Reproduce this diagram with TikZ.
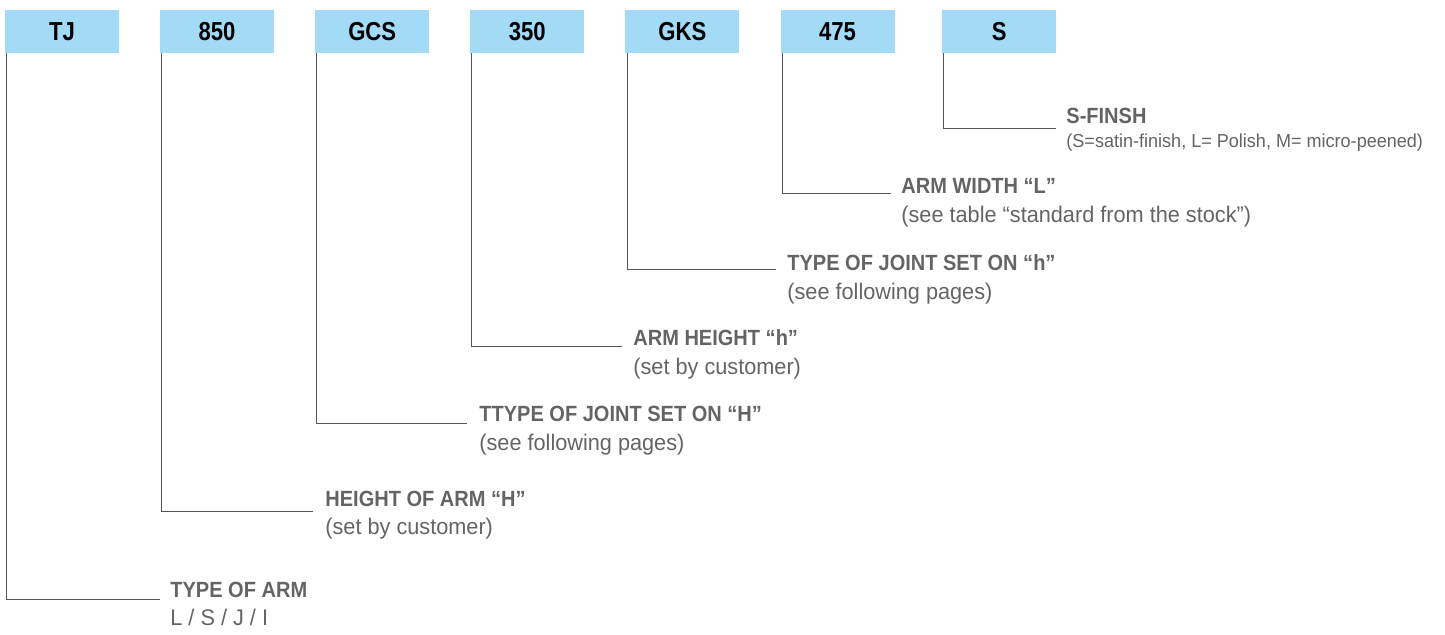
\documentclass[tikz,border=0pt]{standalone}
\usepackage{fontspec}
\setmainfont{Liberation Sans}[FakeStretch=0.85]
\newfontfamily\titlefont{Liberation Sans}[FakeStretch=0.91]
\newfontfamily\subfont{Liberation Sans}[FakeStretch=0.96]
\usepackage{tikz}
\usetikzlibrary{positioning}

\definecolor{codeblue}{HTML}{A3DAF5}
\definecolor{labelgray}{HTML}{646464}
\definecolor{leadgray}{HTML}{555555}

\begin{document}
\begin{tikzpicture}[
    x=0.5pt, y=-0.5pt,
    node distance=0pt and 20.15pt,
    code/.style   = {rectangle, fill=codeblue, minimum width=57pt,
                     minimum height=21.5pt, inner sep=0pt,
                     font=\fontsize{13}{15}\selectfont\bfseries},
    title/.style  = {anchor=base west, inner sep=0pt, text=labelgray,
                     font=\titlefont\fontsize{11}{13}\selectfont\bfseries},
    sub/.style    = {anchor=base west, inner sep=0pt, text=labelgray,
                     font=\subfont\fontsize{11.3}{13}\selectfont},
    small/.style  = {sub, font=\subfont\fontsize{9.4}{11}\selectfont},
    lead/.style   = {draw=leadgray, line width=0.5pt}
]
\useasboundingbox (0,0) rectangle (1445,634);

% ========= code boxes =========
\node[code] at (62,31.5)         (tj)  {TJ};
\node[code, right=of tj]         (hgt) {850};
\node[code, right=of hgt]        (gcs) {GCS};
\node[code, right=of gcs]        (hh)  {350};
\node[code, right=of hh]         (gks) {GKS};
\node[code, right=of gks]        (wid) {475};
\node[code, right=23.5pt of wid] (fin) {S};

% ========= labels =========
\node[title] at (170,597)  (armt) {TYPE OF ARM};
\node[sub]   at (170,625)  (arms) {L / S / J / I};
\node[title] at (325,506)  (hgtt) {HEIGHT OF ARM “H”};
\node[sub]   at (325,534)  (hgts) {(set by customer)};
\node[title] at (479,421)  (gcst) {TTYPE OF JOINT SET ON “H”};
\node[sub]   at (479,450)  (gcss) {(see following pages)};
\node[title] at (633,345)  (hht)  {ARM HEIGHT “h”};
\node[sub]   at (633,374)  (hhs)  {(set by customer)};
\node[title] at (787,270)  (gkst) {TYPE OF JOINT SET ON “h”};
\node[sub]   at (787,299)  (gkss) {(see following pages)};
\node[title] at (901,193)  (widt) {ARM WIDTH “L”};
\node[sub]   at (901,222)  (wids) {(see table “standard from the stock”)};
\node[title] at (1066,123) (fint) {S-FINSH};
\node[small] at (1066,147) (fins) {(S=satin-finish, L= Polish, M= micro-peened)};

% ========= leader lines =========
\coordinate (armend) at (160,599);
\coordinate (hgtend) at (313,511);
\coordinate (gcsend) at (467,423);
\coordinate (hhend)  at (622,346);
\coordinate (gksend) at (776,269);
\coordinate (widend) at (891,193);
\coordinate (finend) at (1056,128);

\draw[lead] ([xshift=1pt]tj.south west)  |- (armend);
\draw[lead] ([xshift=1pt]hgt.south west) |- (hgtend);
\draw[lead] ([xshift=1pt]gcs.south west) |- (gcsend);
\draw[lead] ([xshift=1pt]hh.south west)  |- (hhend);
\draw[lead] ([xshift=1pt]gks.south west) |- (gksend);
\draw[lead] ([xshift=1pt]wid.south west) |- (widend);
\draw[lead] ([xshift=1pt]fin.south west) |- (finend);

\end{tikzpicture}
\end{document}
